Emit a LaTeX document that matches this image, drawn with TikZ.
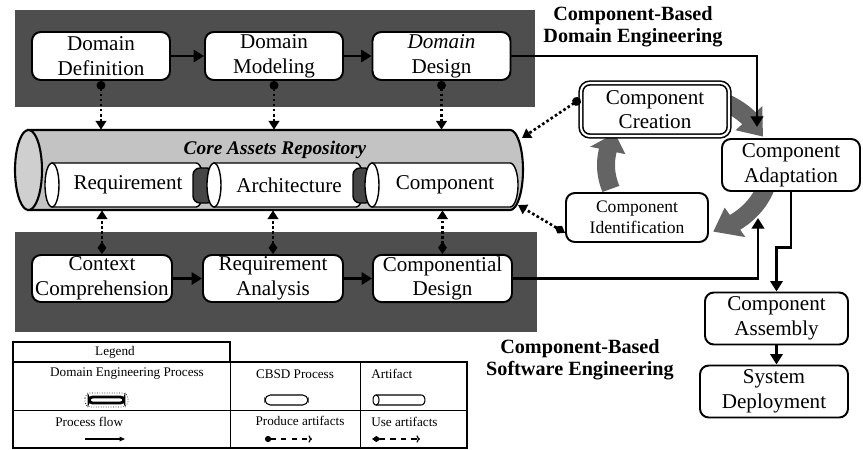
\documentclass[tikz,border=0pt]{standalone}
\usepackage{fontspec}
\setmainfont{Liberation Serif}
\usetikzlibrary{arrows.meta,calc,positioning}

\definecolor{bandgray}{RGB}{78,78,78}
\definecolor{repogray}{RGB}{195,195,195}
\definecolor{cyclegray}{RGB}{100,100,100}
\definecolor{jointgray}{RGB}{70,70,70}

\tikzset{
  procbox/.style={draw, line width=1.1pt, fill=white, rounded corners=5pt,
    align=center, inner sep=1pt, font=\fontsize{12}{14}\selectfont},
  createbox/.style={procbox, double=white, double distance=1.2pt, line width=0.9pt},
  flow/.style={line width=1.7pt, -{Triangle[length=6pt,width=7pt]}},
  produce/.style={line width=1.5pt, dash pattern=on 1.5pt off 1.4pt,
    {Circle[length=5pt]}-{Triangle[length=5pt,width=6pt]}},
  useart/.style={line width=1.5pt, dash pattern=on 1.5pt off 1.4pt,
    {Diamond[length=7pt,width=5pt]}-{Triangle[length=5pt,width=6pt]}},
  tlabel/.style={align=center, font=\bfseries\fontsize{11.5}{12.5}\selectfont},
  legtext/.style={inner sep=0pt, font=\fontsize{7.5}{8}\selectfont},
}

% white cylinder for one artifact: left x, right x, name, text
\newcommand\artifact[4]{%
  \filldraw[fill=white, line width=0.8pt] (#1,163) -- (#2,163)
    -- plot[domain=-90:90, samples=20] ({#2+8*cos(\x)},{185+22*sin(\x)})
    -- (#1,207) -- cycle;
  \filldraw[fill=white, line width=0.8pt]
    plot[domain=0:360, samples=30] ({#1+7*cos(\x)},{185+22*sin(\x)}) -- cycle;
  \node[font=\fontsize{12}{14}\selectfont] (#3) at ({(#1+#2)/2+4},185) {#4};
}

% one thick arrow of the component cycle: from angle, to angle, tip angle
\newcommand\cyclearrow[3]{%
  \fill[cyclegray]
    plot[domain=#1:#2, samples=20] ({688+91*cos(\x)},{165+79*sin(\x)})
    -- ({688+100*cos(#2)},{165+88*sin(#2)})
    -- ({688+82*cos(#3)},{165+70*sin(#3)})
    -- ({688+64*cos(#2)},{165+52*sin(#2)})
    -- plot[domain=#2:#1, samples=20] ({688+73*cos(\x)},{165+61*sin(\x)})
    -- cycle;
}

\begin{document}
\begin{tikzpicture}[x=0.02cm, y=-0.02cm]
\useasboundingbox (0,0) rectangle (863,450);

% the two engineering bands
\fill[bandgray] (15,10) rectangle (535,107);
\fill[bandgray] (15,232) rectangle (537,332);

% domain engineering processes
\node[procbox, minimum width=2.76cm, minimum height=0.96cm] (ddef) at (101,56) {Domain\\Definition};
\node[procbox, minimum width=2.76cm, minimum height=0.96cm] (dmod) at (274,56) {Domain\\Modeling};
\node[procbox, minimum width=2.76cm, minimum height=0.96cm] (ddes) at (441.5,56) {\textit{Domain}\\Design};
\draw[flow] (ddef) -- (dmod);
\draw[flow] (dmod) -- (ddes);

% CBSD processes
\node[procbox, minimum width=2.8cm, minimum height=0.94cm] (ctx) at (102,278.5) {Context\\Comprehension};
\node[procbox, minimum width=2.8cm, minimum height=0.94cm] (rana) at (273,278.5) {Requirement\\Analysis};
\node[procbox, minimum width=2.78cm, minimum height=0.94cm] (cdes) at (442.5,278.5) {Componential\\Design};
\draw[flow] (ctx) -- (rana);
\draw[flow] (rana) -- (cdes);

% core assets repository
\node[minimum width=10.16cm, minimum height=1.6cm, inner sep=0pt] (repo) at (269,170) {};
\filldraw[fill=repogray, line width=1.2pt] (28,130) -- (510,130)
  -- plot[domain=-90:90, samples=25] ({510+13*cos(\x)},{170+40*sin(\x)})
  -- (28,210) -- cycle;
\filldraw[fill=repogray!80, line width=1.2pt]
  plot[domain=0:360, samples=40] ({28.5+13.5*cos(\x)},{170+40*sin(\x)}) -- cycle;
\node[font=\bfseries\itshape\fontsize{11}{11}\selectfont] (corelbl) at (275,150) {Core Assets Repository};

\artifact{52}{196}{req}{Requirement}
\filldraw[fill=jointgray, line width=0.8pt, rounded corners=4pt] (193,168) rectangle (214,203);
\artifact{214}{356}{arch}{Architecture}
\filldraw[fill=jointgray, line width=0.8pt, rounded corners=4pt] (353,168) rectangle (372,203);
\artifact{372}{510}{comp}{Component}

% artifacts produced and used
\draw[produce] (ddef.south) -- (ddef.south |- repo.north);
\draw[produce] (dmod.south) -- (dmod.south |- repo.north);
\draw[produce] (ddes.south) -- (ddes.south |- repo.north);
\draw[useart] (ctx.north) -- (ctx.north |- repo.south);
\draw[useart] (rana.north) -- (rana.north |- repo.south);
\draw[useart] (cdes.north) -- (cdes.north |- repo.south);

% component cycle
\cyclearrow{285}{318}{336}
\cyclearrow{15}{55}{72}
\cyclearrow{160}{192}{207}

\node[createbox, minimum width=2.96cm, minimum height=1.06cm] (create) at (655,109.5) {Component\\Creation};
\node[procbox, minimum width=2.76cm, minimum height=1.04cm] (adapt) at (791,165) {Component\\Adaptation};
\node[procbox, font=\fontsize{10}{12}\selectfont, minimum width=2.84cm, minimum height=0.98cm] (ident) at (637,217.5) {Component\\Identification};
\node[procbox, minimum width=2.86cm, minimum height=1.04cm] (assem) at (776.5,318.5) {Component\\Assembly};
\node[procbox, minimum width=2.96cm, minimum height=1.04cm] (deploy) at (774,391.5) {System\\Deployment};

\coordinate (repoNE) at (522,138);
\coordinate (repoSE) at (518,205);
\draw[produce] (create.172) -- (repoNE);
\draw[useart] (ident.192) -- (repoSE);

\coordinate (adaptin) at (757,127);
\coordinate (adaptup) at (758,218);
\draw[flow] (ddes.east) -| (adaptin);
\draw[flow] (cdes.east) -| (adaptup);
\draw[flow] (adapt.south) -- ++(0,56) -| (assem.north);
\draw[flow] (assem.south) -- (assem.south |- deploy.north);

\node[tlabel] (cbde) at (633,27) {Component-Based\\Domain Engineering};
\node[tlabel] (cbse) at (580,360) {Component-Based\\Software Engineering};

% legend
\draw[line width=1pt] (13,342) rectangle (230,362);
\draw[line width=0.6pt] (13,362) rectangle (467,448);
\draw[line width=0.5pt] (13,410) -- (467,410) (230,362) -- (230,448) (360,362) -- (360,448);
\node[legtext] (legtitle) at (115,352) {Legend};
\node[legtext] (legdom) at (127,374) {Domain Engineering Process};
\node[legtext] (legcbsd) at (295,374) {CBSD Process};
\node[legtext, anchor=west] (legart) at (371,374) {Artifact};
\node[legtext, anchor=west] (legflow) at (55,422) {Process flow};
\node[legtext] (legprod) at (300,421) {Produce artifacts};
\node[legtext, anchor=west] (leguse) at (371,422) {Use artifacts};

\draw[densely dotted, rounded corners=3pt] (85,393) rectangle (128,407);
\draw[line width=1.6pt, rounded corners=2pt] (89,397) rectangle (124,403);
\draw[line width=0.6pt, rounded corners=3pt] (265,395) rectangle (308,405);
\draw[line width=0.6pt] (376,395) -- (421,395)
  -- plot[domain=-90:90, samples=12] ({421+4*cos(\x)},{400+5*sin(\x)}) -- (376,405);
\draw[line width=0.6pt] plot[domain=0:360, samples=24] ({376+3*cos(\x)},{400+5*sin(\x)});
\draw[line width=0.7pt, -{Triangle[length=3pt,width=2.5pt]}] (85,439) -- (125,439);
\draw[line width=0.7pt, dashed, {Circle[length=3.5pt]}-{To[length=2pt]}] (265,439) -- (312,439);
\draw[line width=0.7pt, dashed, {Diamond[length=5pt,width=3.5pt]}-{To[length=2pt]}] (372,439) -- (420,439);
\end{tikzpicture}
\end{document}
